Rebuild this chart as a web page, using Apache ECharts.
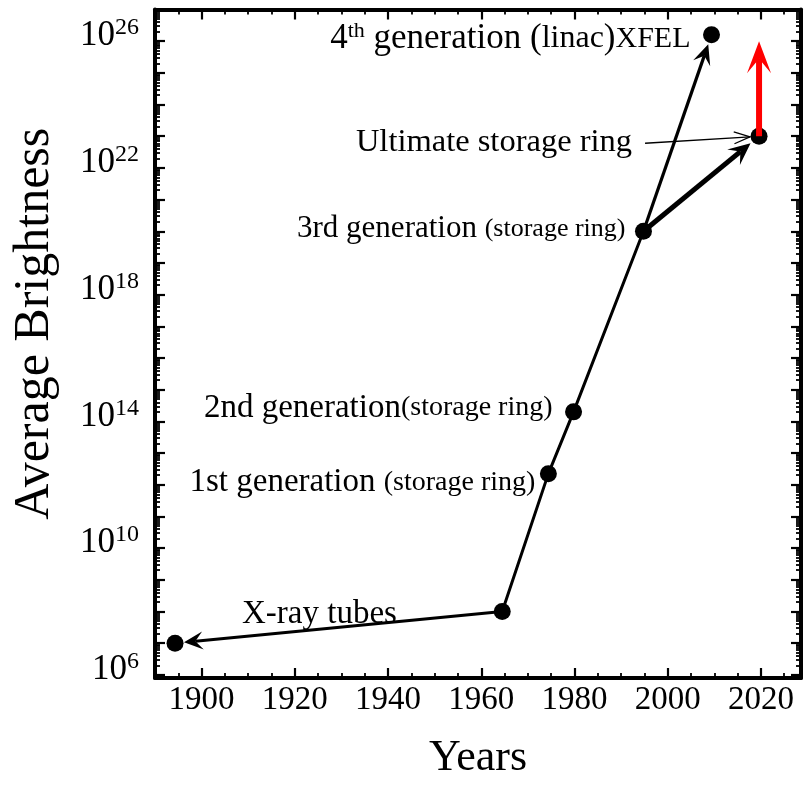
<!DOCTYPE html>
<html>
<head>
<meta charset="utf-8">
<script src="https://cdn.jsdelivr.net/npm/echarts@6/dist/echarts.min.js"></script>
<style>
  html, body { margin: 0; padding: 0; background: #fff; }
  #chart { width: 806px; height: 790px; }
</style>
</head>
<body>
<div id="chart"></div>
<script>
// X-ray source milestones: year and log10 of the average brightness
const sourceYears = [1894.3, 1964.5, 1974.4, 1979.8, 1994.8, 2009.4, 2019.6];
const sourceLog10Brightness = [7.0, 8.0, 12.35, 14.3, 20.0, 26.2, 23.0];

// Projected reach of the ultimate storage ring (log10 brightness)
const projectedLog10Brightness = 26.0;

// Storage-ring growth path through the milestones (indices)
const growthPath = [1, 2, 3, 4];
// Arrows between milestones: [from, to]
const arrowLinks = [[1, 0], [4, 5], [4, 6]];

// Axis ticks
const yearTicksMajor = [1900, 1920, 1940, 1960, 1980, 2000, 2020];
const yearTicksMinor = [1895, 1905, 1910, 1915, 1925, 1930, 1935, 1945, 1950, 1955,
                        1965, 1970, 1975, 1985, 1990, 1995, 2005, 2010, 2015, 2025];
const decadeTicks = [6, 7, 8, 9, 10, 11, 12, 13, 14, 15, 16, 17, 18, 19, 20, 21, 22, 23, 24, 25, 26, 27];
const decadeLabels = [6, 10, 14, 18, 22, 26];

const FONT = 'Liberation Serif';
const X_MIN = 1890, X_MAX = 2028.6;
const Y_MIN = 5.9, Y_MAX = 27;

// log-spaced sub-ticks (2..9 x 10^n) inside each decade
const subDecadeTicks = [];
[5].concat(decadeTicks).forEach(function (n) {
  for (let k = 2; k <= 9; k++) {
    const v = n + Math.log10(k);
    if (v > Y_MIN && v < Y_MAX) subDecadeTicks.push(v);
  }
});

function txt(size) {
  return { fontFamily: FONT, fontSize: size, color: '#000', lineHeight: 38 };
}
const rich = {
  b31: txt(31), b33: txt(33), b32: txt(32.5), b35: txt(35),
  s26: txt(26), s28: txt(28), s32: txt(32),
  sup: { fontFamily: FONT, fontSize: 22, color: '#000', verticalAlign: 'top', lineHeight: 24 },
  xfel: txt(30)
};

// Annotation text and placement for each milestone
const pointLabels = [
  { text: '{b33|X-ray tubes}', align: 'left', offset: [67, -29] },
  null,
  { text: '{b33|1st generation }{s28|(storage ring)}', align: 'right', offset: [-13, 9] },
  { text: '{b33|2nd generation}{s28|(storage ring)}', align: 'right', offset: [-21, -4] },
  { text: '{b31|3rd generation }{s26|(storage ring)}', align: 'right', offset: [-18, -2] },
  { text: '{b35|4}{sup|th}{b35| generation (}{s32|linac}{b35|)}{xfel|XFEL}', align: 'right', offset: [-21, 4] },
  { text: '{b32|Ultimate storage ring}', align: 'right', offset: [-127, 6] }
];

// Arrow drawing styles (same order as the arrow data built below)
const arrowStyles = [
  { width: 3,   color: '#000',    headLen: 19, headHalf: 9,  notch: 0.6,  gapEnd: 9 },
  { width: 3.2, color: '#000',    headLen: 20, headHalf: 9,  notch: 0.6,  gapEnd: 10 },
  { width: 5,   color: '#000',    headLen: 22, headHalf: 10, notch: 0.6,  gapEnd: 11 },
  { width: 6,   color: '#ff0000', headLen: 32, headHalf: 12, notch: 0.55, gapEnd: 0 },
  { width: 1.3, color: '#000',    headLen: 16, headHalf: 6,  open: true,  gapEnd: 9, startOffset: [-114, 7] }
];

const scatterData = sourceYears.map(function (yr, i) {
  const item = { value: [yr, sourceLog10Brightness[i]] };
  const lab = pointLabels[i];
  if (lab) {
    item.label = {
      show: true, position: 'inside', align: lab.align, verticalAlign: 'middle',
      offset: lab.offset, formatter: lab.text, rich: rich, color: '#000', opacity: 1
    };
  }
  return item;
});

const pathData = growthPath.map(function (i) {
  return [sourceYears[i], sourceLog10Brightness[i]];
});

const arrowData = arrowLinks.map(function (link, k) {
  const a = link[0], b = link[1];
  return [sourceYears[a], sourceLog10Brightness[a], sourceYears[b], sourceLog10Brightness[b], k];
});
arrowData.push([sourceYears[6], sourceLog10Brightness[6], sourceYears[6], projectedLog10Brightness, 3]);
arrowData.push([sourceYears[6], sourceLog10Brightness[6], sourceYears[6], sourceLog10Brightness[6], 4]);

function renderArrow(params, api) {
  const st = arrowStyles[api.value(4)];
  const p1 = api.coord([api.value(0), api.value(1)]);
  const p2 = api.coord([api.value(2), api.value(3)]);
  let start = p1.slice();
  if (st.startOffset) start = [p1[0] + st.startOffset[0], p1[1] + st.startOffset[1]];
  let dx = p2[0] - start[0], dy = p2[1] - start[1];
  const d = Math.sqrt(dx * dx + dy * dy);
  dx /= d; dy /= d;
  const tip = [p2[0] - dx * st.gapEnd, p2[1] - dy * st.gapEnd];
  const nx = -dy, ny = dx;
  const base = [tip[0] - dx * st.headLen, tip[1] - dy * st.headLen];
  const b1 = [base[0] + nx * st.headHalf, base[1] + ny * st.headHalf];
  const b2 = [base[0] - nx * st.headHalf, base[1] - ny * st.headHalf];
  const children = [];
  if (st.open) {
    children.push({ type: 'line', shape: { x1: start[0], y1: start[1], x2: tip[0], y2: tip[1] },
      style: { stroke: st.color, lineWidth: st.width } });
    children.push({ type: 'polyline', shape: { points: [b1, tip, b2] },
      style: { stroke: st.color, lineWidth: st.width, fill: null } });
  } else {
    const notchPt = [tip[0] - dx * st.headLen * st.notch, tip[1] - dy * st.headLen * st.notch];
    children.push({ type: 'line', shape: { x1: start[0], y1: start[1], x2: notchPt[0], y2: notchPt[1] },
      style: { stroke: st.color, lineWidth: st.width } });
    children.push({ type: 'polygon', shape: { points: [tip, b1, notchPt, b2] },
      style: { fill: st.color, stroke: null } });
  }
  return { type: 'group', children: children };
}

function xAxisCfg(pos, ticks, len, showLine, withLabels) {
  return {
    type: 'value', position: pos, min: X_MIN, max: X_MAX,
    axisLine: { show: showLine, onZero: false, lineStyle: { color: '#000', width: 4 } },
    axisTick: { show: true, inside: true, length: len, customValues: ticks,
      lineStyle: { color: '#000', width: len > 6 ? 2.2 : 1.8 } },
    axisLabel: withLabels ? { show: true, customValues: yearTicksMajor, margin: 6,
      formatter: function (v) { return String(Math.round(v)); },
      fontFamily: FONT, fontSize: 33, color: '#000' } : { show: false },
    splitLine: { show: false },
    name: withLabels ? 'Years' : '', nameLocation: 'middle', nameGap: 58,
    nameTextStyle: { fontFamily: FONT, fontSize: 44, color: '#000' }
  };
}

function yAxisCfg(pos, ticks, len, showLine, withLabels) {
  return {
    type: 'value', position: pos, min: Y_MIN, max: Y_MAX,
    axisLine: { show: showLine, onZero: false, lineStyle: { color: '#000', width: 4 } },
    axisTick: { show: true, inside: true, length: len, customValues: ticks,
      lineStyle: { color: '#000', width: len > 6 ? 2.2 : 1.8 } },
    axisLabel: withLabels ? {
      show: true, customValues: decadeLabels, margin: 16,
      formatter: function (v) { return '{b|10}{s|' + Math.round(v) + '}'; },
      padding: [0, 0, 10, 0],
      rich: {
        b: { fontFamily: FONT, fontSize: 35, color: '#000', lineHeight: 40 },
        s: { fontFamily: FONT, fontSize: 24, color: '#000', verticalAlign: 'top', lineHeight: 26 }
      }
    } : { show: false },
    splitLine: { show: false },
    name: withLabels ? 'Average Brightness' : '', nameLocation: 'middle', nameGap: 95, nameRotate: 90,
    nameTextStyle: { fontFamily: FONT, fontSize: 50, color: '#000', padding: [0, 0, 0, 40] }
  };
}

const chart = echarts.init(document.getElementById('chart'), null, { renderer: 'canvas' });
chart.setOption({
  animation: false,
  backgroundColor: '#fff',
  grid: { left: 155, right: 5, top: 9.5, bottom: 112, containLabel: false, outerBoundsMode: 'none' },
  xAxis: [
    xAxisCfg('bottom', yearTicksMajor, 10, true, true),
    xAxisCfg('bottom', yearTicksMinor, 5, false, false),
    xAxisCfg('top', yearTicksMajor, 10, true, false),
    xAxisCfg('top', yearTicksMinor, 5, false, false)
  ],
  yAxis: [
    yAxisCfg('left', decadeTicks, 10, true, true),
    yAxisCfg('left', subDecadeTicks, 5, false, false),
    yAxisCfg('right', decadeTicks, 10, true, false),
    yAxisCfg('right', subDecadeTicks, 5, false, false)
  ],
  series: [
    {
      type: 'line', data: pathData, symbol: 'none', z: 1,
      lineStyle: { color: '#000', width: 3 }
    },
    {
      type: 'scatter', data: scatterData, symbol: 'circle', symbolSize: 17, z: 2,
      itemStyle: { color: '#000', opacity: 1 }
    },
    {
      type: 'custom', data: arrowData, renderItem: renderArrow, z: 3,
      encode: { x: [0, 2], y: [1, 3] }, clip: false
    }
  ]
});
</script>
</body>
</html>
